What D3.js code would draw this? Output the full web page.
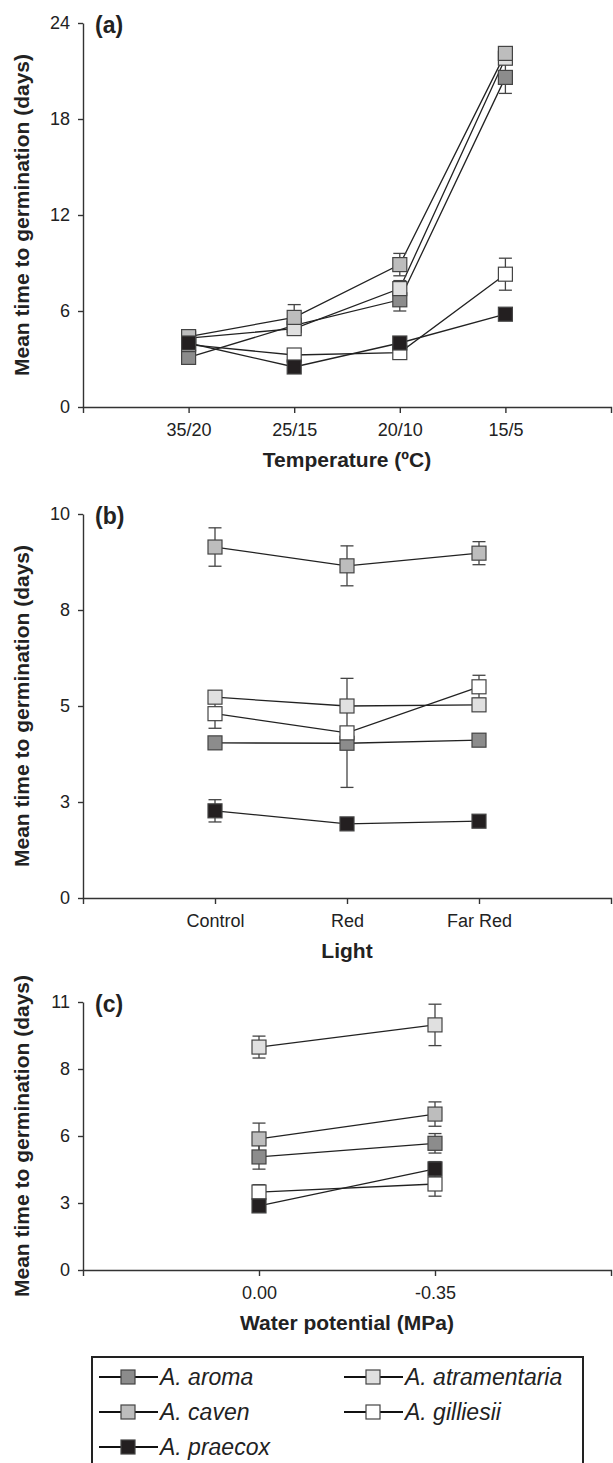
<!DOCTYPE html>
<html>
<head>
<meta charset="utf-8">
<script src="https://cdn.jsdelivr.net/npm/d3@7"></script>
<style>
  body { margin: 0; background: #fff; }
  text { font-family: "Liberation Sans", Arial, sans-serif; fill: #222; }
</style>
</head>
<body>
<script>
// ===============================
// Dades
// ===============================
const species = ["A. aroma", "A. atramentaria", "A. caven", "A. gilliesii", "A. praecox"];
const speciesFill = ["#8c8c8c", "#e0e0e0", "#bdbdbd", "#ffffff", "#231f20"];

// (a) temperatura
const tempCats = ["35/20", "25/15", "20/10", "15/5"];
const tempTicks = [0, 6, 12, 18, 24];
const tempTickLabels = ["0", "6", "12", "18", "24"];
const tempMean = [
  [3.1, 5.1, 6.7, 20.6],
  [4.3, 4.9, 7.4, 21.8],
  [4.4, 5.6, 8.9, 22.1],
  [3.9, 3.25, 3.4, 8.3],
  [4.0, 2.5, 4.0, 5.8]
];
const tempErr = [
  [0.3, 0.3, 0.7, 1.0],
  [0.3, 0.4, 0.5, 0.4],
  [0.3, 0.8, 0.7, 0.4],
  [0.3, 0.3, 0.3, 1.0],
  [0.2, 0.2, 0.3, 0.2]
];

// (b) llum
const lightCats = ["Control", "Red", "Far Red"];
const lightTicks = [0, 2.5, 5, 7.5, 10];
const lightTickLabels = ["0", "3", "5", "8", "10"];
const lightMean = [
  [4.04, 4.03, 4.11],
  [5.23, 5.0, 5.03],
  [9.14, 8.65, 8.98],
  [4.8, 4.3, 5.5],
  [2.27, 1.93, 2.0]
];
const lightErr = [
  [0.15, 0.15, 0.15],
  [0.15, 0.15, 0.15],
  [0.5, 0.52, 0.3],
  [0.38, 1.42, 0.3],
  [0.29, 0.1, 0.1]
];

// (c) potencial hídric
const waterCats = ["0.00", "-0.35"];
const waterTicks = [0, 2.75, 5.5, 8.25, 11];
const waterTickLabels = ["0", "3", "6", "8", "11"];
const waterMean = [
  [4.64, 5.2],
  [9.15, 10.06],
  [5.38, 6.4],
  [3.2, 3.53],
  [2.63, 4.15]
];
const waterErr = [
  [0.5, 0.4],
  [0.45, 0.85],
  [0.65, 0.5],
  [0.3, 0.5],
  [0.2, 0.3]
];

// ===============================
// SVG
// ===============================
const W = 613, H = 1463;
const left = 83, right = 611;
const markerSize = 14;

const svg = d3.select("body").append("svg")
  .attr("width", W)
  .attr("height", H);

function drawPanel(cfg) {
  const g = svg.append("g");

  const x = d3.scalePoint()
    .domain(cfg.cats)
    .range([left, right])
    .padding(1);

  const y = d3.scaleLinear()
    .domain([0, cfg.yMax])
    .range([cfg.bottom, cfg.top]);

  // eixos
  const yAxis = g.append("g")
    .attr("transform", `translate(${left},0)`)
    .call(d3.axisLeft(y)
      .tickValues(cfg.ticks)
      .tickFormat((d, i) => cfg.tickLabels[i])
      .tickSize(5)
      .tickSizeOuter(0)
      .tickPadding(8));

  const xAxis = g.append("g")
    .attr("transform", `translate(0,${cfg.bottom})`)
    .call(d3.axisBottom(x)
      .tickSize(6)
      .tickSizeOuter(6)
      .tickPadding(10));

  [xAxis, yAxis].forEach(a => {
    a.selectAll("path, line").attr("stroke", "#333").attr("stroke-width", 1.4);
    a.selectAll("text")
      .style("font-size", "18px")
      .style("font-family", "'Liberation Sans', Arial, sans-serif")
      .attr("fill", "#222");
  });

  // títol eix x
  g.append("text")
    .attr("x", (left + right) / 2)
    .attr("y", cfg.bottom + 60)
    .attr("text-anchor", "middle")
    .style("font-size", "21px")
    .style("font-weight", "bold")
    .text(cfg.xTitle);

  // títol eix y
  g.append("text")
    .attr("transform", `translate(29,${(cfg.top + cfg.bottom) / 2}) rotate(-90)`)
    .attr("text-anchor", "middle")
    .style("font-size", "21px")
    .style("font-weight", "bold")
    .text("Mean time to germination (days)");

  // etiqueta del panell
  g.append("text")
    .attr("x", 95)
    .attr("y", cfg.top + 10)
    .style("font-size", "23px")
    .style("font-weight", "bold")
    .text(cfg.label);

  const series = species.map((s, i) => ({
    name: s,
    fill: speciesFill[i],
    pts: cfg.cats.map((c, j) => ({ c, m: cfg.mean[i][j], e: cfg.err[i][j] }))
  }));

  const line = d3.line()
    .x(d => x(d.c))
    .y(d => y(d.m));

  // línies
  g.selectAll(".serie")
    .data(series)
    .enter()
    .append("path")
    .attr("d", d => line(d.pts))
    .attr("fill", "none")
    .attr("stroke", "#222")
    .attr("stroke-width", 1.3);

  // barres d'error
  const allPts = series.flatMap(s => s.pts.map(p => Object.assign({ fill: s.fill }, p)));
  const eb = g.selectAll(".err")
    .data(allPts)
    .enter()
    .append("g")
    .attr("stroke", "#444")
    .attr("stroke-width", 1.3);

  eb.append("line")
    .attr("x1", d => x(d.c)).attr("x2", d => x(d.c))
    .attr("y1", d => y(d.m - d.e)).attr("y2", d => y(d.m + d.e));
  eb.append("line")
    .attr("x1", d => x(d.c) - 6.5).attr("x2", d => x(d.c) + 6.5)
    .attr("y1", d => y(d.m - d.e)).attr("y2", d => y(d.m - d.e));
  eb.append("line")
    .attr("x1", d => x(d.c) - 6.5).attr("x2", d => x(d.c) + 6.5)
    .attr("y1", d => y(d.m + d.e)).attr("y2", d => y(d.m + d.e));

  // marcadors
  g.selectAll(".mk")
    .data(allPts)
    .enter()
    .append("rect")
    .attr("x", d => x(d.c) - markerSize / 2)
    .attr("y", d => y(d.m) - markerSize / 2)
    .attr("width", markerSize)
    .attr("height", markerSize)
    .attr("fill", d => d.fill)
    .attr("stroke", "#444")
    .attr("stroke-width", 1.2);
}

drawPanel({
  label: "(a)", cats: tempCats, yMax: 24, ticks: tempTicks, tickLabels: tempTickLabels,
  mean: tempMean, err: tempErr, top: 23, bottom: 407, xTitle: "Temperature (ºC)"
});
drawPanel({
  label: "(b)", cats: lightCats, yMax: 10, ticks: lightTicks, tickLabels: lightTickLabels,
  mean: lightMean, err: lightErr, top: 514, bottom: 898, xTitle: "Light"
});
drawPanel({
  label: "(c)", cats: waterCats, yMax: 11, ticks: waterTicks, tickLabels: waterTickLabels,
  mean: waterMean, err: waterErr, top: 1002, bottom: 1270, xTitle: "Water potential (MPa)"
});

// ===============================
// Llegenda
// ===============================
const legend = svg.append("g");

legend.append("rect")
  .attr("x", 92)
  .attr("y", 1357)
  .attr("width", 491)
  .attr("height", 130)
  .attr("fill", "none")
  .attr("stroke", "#222")
  .attr("stroke-width", 2);

const items = legend.selectAll(".item")
  .data(species)
  .enter()
  .append("g")
  .attr("transform", (d, i) => `translate(${i % 2 === 0 ? 99 : 344}, ${1377 + Math.floor(i / 2) * 35})`);

items.append("line")
  .attr("x1", 0).attr("x2", 59)
  .attr("y1", 0).attr("y2", 0)
  .attr("stroke", "#111")
  .attr("stroke-width", 2);

items.append("rect")
  .attr("x", 29 - 7).attr("y", -7)
  .attr("width", 14).attr("height", 14)
  .attr("fill", (d, i) => speciesFill[i])
  .attr("stroke", "#444")
  .attr("stroke-width", 1.2);

items.append("text")
  .attr("x", 61)
  .attr("y", 8)
  .style("font-size", "23px")
  .style("font-style", "italic")
  .text(d => d);
</script>
</body>
</html>
